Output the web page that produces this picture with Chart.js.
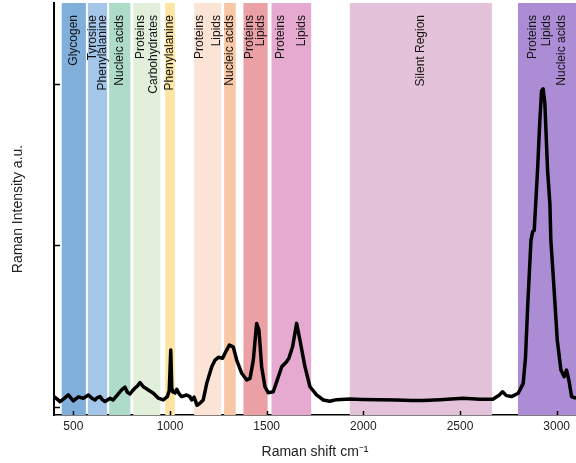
<!DOCTYPE html>
<html>
<head>
<meta charset="utf-8">
<script src="https://cdn.jsdelivr.net/npm/chart.js@4.4.1/dist/chart.umd.min.js"></script>
<style>
html, body { margin: 0; padding: 0; background: #fff; }
#wrap { width: 576px; height: 463px; }
</style>
</head>
<body>
<div id="wrap"><canvas id="chart"></canvas></div>
<script>
// spectrum
var shift = [400, 415, 431, 450, 474, 500, 526, 552, 578, 595, 612, 625, 638, 650, 664, 690, 705, 725, 750, 767,
	780, 793, 806, 819, 832, 845, 862, 875, 888, 914, 940, 965, 986, 996, 1004, 1009, 1014, 1026, 1035, 1048,
	1060, 1086, 1103, 1112, 1125, 1140, 1155, 1172, 1190, 1216, 1233, 1250, 1272, 1284, 1307, 1327, 1345, 1371, 1397, 1414,
	1431, 1448, 1460, 1474, 1491, 1508, 1534, 1555, 1578, 1603, 1615, 1634, 1655, 1672, 1698, 1724, 1758, 1793, 1826, 1862,
	1929, 1997, 2080, 2172, 2250, 2308, 2396, 2515, 2603, 2670, 2700, 2720, 2740, 2767, 2801, 2827, 2839, 2850, 2867, 2876,
	2884, 2901, 2913, 2922, 2930, 2939, 2953, 2965, 2970, 2987, 3003, 3022, 3039, 3051, 3063, 3077, 3094, 3100];
var intensity = [0.064, 0.05, 0.033, 0.05, 0.074, 0.037, 0.062, 0.054, 0.074, 0.055, 0.043, 0.058, 0.064, 0.045, 0.033, 0.054, 0.043, 0.07, 0.105, 0.122,
	0.09, 0.08, 0.1, 0.117, 0.13, 0.15, 0.125, 0.115, 0.105, 0.085, 0.054, 0.043, 0.064, 0.1, 0.352, 0.12, 0.094, 0.086, 0.109, 0.08,
	0.064, 0.074, 0.064, 0.043, 0.06, 0.01, 0.023, 0.043, 0.146, 0.249, 0.29, 0.307, 0.301, 0.331, 0.383, 0.372, 0.29, 0.208, 0.167, 0.177,
	0.29, 0.517, 0.475, 0.249, 0.125, 0.088, 0.094, 0.167, 0.249, 0.28, 0.301, 0.372, 0.517, 0.414, 0.249, 0.125, 0.074, 0.043, 0.035, 0.045,
	0.049, 0.046, 0.044, 0.043, 0.04, 0.039, 0.045, 0.054, 0.048, 0.048, 0.07, 0.094, 0.07, 0.064, 0.085, 0.146, 0.31, 0.619, 1.031, 1.085,
	1.093, 1.463, 1.772, 1.957, 1.969, 1.877, 1.463, 1.259, 1.031, 0.722, 0.414, 0.228, 0.187, 0.228, 0.167, 0.064, 0.056, 0.056];

// assignment bands
var bandFrom = [440, 575, 685, 810, 975, 1125, 1280, 1380, 1525, 1930, 2800];
var bandTo = [565, 675, 795, 950, 1025, 1265, 1340, 1505, 1730, 2665, 3100];
var bandLabels = [
	['Glycogen'],
	['Tyrosine', 'Phenylalanine'],
	['Nucleic acids'],
	['Proteins', 'Carbohydrates'],
	['Phenylalanine'],
	['Proteins', 'Lipids'],
	['Nucleic acids'],
	['Proteins', 'Lipids'],
	['Proteins', 'Lipids'],
	['Silent Region'],
	['Proteins', 'Lipids', 'Nucleic acids']
];

var xTicks = [500, 1000, 1500, 2000, 2500, 3000];
var yTicks = [0, 1, 2];

var bandColors = ['#80afdc', '#a3c6e9', '#afdcc9', '#e2efda', '#fde4a1', '#fbe3d6', '#f7c7a6',
	'#eaa0a5', '#e6a9cf', '#e4c3da', '#ad8cd6'];
var bandGaps = [0, 10, 0, 13, 0, 17, 0, 11, 21, 0, 14.8];
var font = "'Liberation Sans', Arial, sans-serif";

var bands = {
	id: 'bands',
	beforeDatasetsDraw: function(c) {
		var ctx = c.ctx, x = c.scales.x, a = c.chartArea;
		ctx.save();
		for (var i = 0; i < bandFrom.length; i++) {
			var x0 = x.getPixelForValue(bandFrom[i]), x1 = x.getPixelForValue(bandTo[i]);
			ctx.fillStyle = bandColors[i];
			ctx.fillRect(x0, a.top, x1 - x0, a.bottom - a.top);
		}
		ctx.fillStyle = '#111';
		ctx.font = '12px ' + font;
		ctx.textAlign = 'right';
		ctx.textBaseline = 'middle';
		for (var i = 0; i < bandFrom.length; i++) {
			var cx = (x.getPixelForValue(bandFrom[i]) + x.getPixelForValue(bandTo[i])) / 2;
			var lines = bandLabels[i];
			ctx.save();
			ctx.translate(cx, a.top + 12);
			ctx.rotate(-Math.PI / 2);
			for (var j = 0; j < lines.length; j++) {
				ctx.fillText(lines[j], 0, (j - (lines.length - 1) / 2) * bandGaps[i]);
			}
			ctx.restore();
		}
		ctx.restore();
	}
};

// ticks point inwards
var innerTicks = {
	id: 'innerTicks',
	afterDraw: function(c) {
		var ctx = c.ctx, x = c.scales.x, y = c.scales.y, a = c.chartArea;
		ctx.save();
		ctx.strokeStyle = '#000';
		ctx.lineWidth = 1.5;
		ctx.beginPath();
		xTicks.forEach(function(v) {
			var px = Math.round(x.getPixelForValue(v)) + 0.5;
			ctx.moveTo(px, a.bottom);
			ctx.lineTo(px, a.bottom - 4);
		});
		yTicks.forEach(function(v) {
			var py = Math.round(y.getPixelForValue(v)) + 0.5;
			ctx.moveTo(a.left, py);
			ctx.lineTo(a.left + 6, py);
		});
		ctx.stroke();
		ctx.restore();
	}
};

var points = shift.map(function(s, i) { return {x: s, y: intensity[i]}; });

var chartInstance = new Chart(document.getElementById('chart'), {
	type: 'line',
	data: {
		datasets: [{
			data: points,
			borderColor: '#000',
			borderWidth: 3.5,
			pointRadius: 0,
			tension: 0,
			borderJoinStyle: 'round',
			borderCapStyle: 'round',
			fill: false
		}]
	},
	options: {
		responsive: true,
		maintainAspectRatio: false,
		animation: false,
		layout: { padding: { top: 3, right: 0, left: 0, bottom: 0 } },
		plugins: { legend: { display: false }, tooltip: { enabled: false } },
		scales: {
			x: {
				type: 'linear',
				min: 400,
				max: 3100,
				afterBuildTicks: function(s) { s.ticks = xTicks.map(function(v) { return {value: v}; }); },
				afterFit: function(s) { s.height = 48; },
				grid: { drawOnChartArea: false, drawTicks: false },
				border: { color: '#000', width: 1.5 },
				ticks: { color: '#222', font: { size: 12, family: font }, padding: 4, maxRotation: 0,
					callback: function(v) { return String(v); } },
				title: { display: true, text: 'Raman shift cm\u207B\u00B9', color: '#222', font: { size: 14, family: font }, padding: { top: 4, bottom: 2 } }
			},
			y: {
				type: 'linear',
				min: -0.05,
				max: 2.5,
				afterBuildTicks: function(s) { s.ticks = yTicks.map(function(v) { return {value: v}; }); },
				afterFit: function(s) { s.width = 54; },
				grid: { drawOnChartArea: false, drawTicks: false },
				border: { color: '#000', width: 2 },
				ticks: { display: false },
				title: { display: true, text: 'Raman Intensity a.u.', color: '#222', font: { size: 14, family: font }, padding: { top: 10, bottom: 4 } }
			}
		}
	},
	plugins: [bands, innerTicks]
});
</script>
</body>
</html>
